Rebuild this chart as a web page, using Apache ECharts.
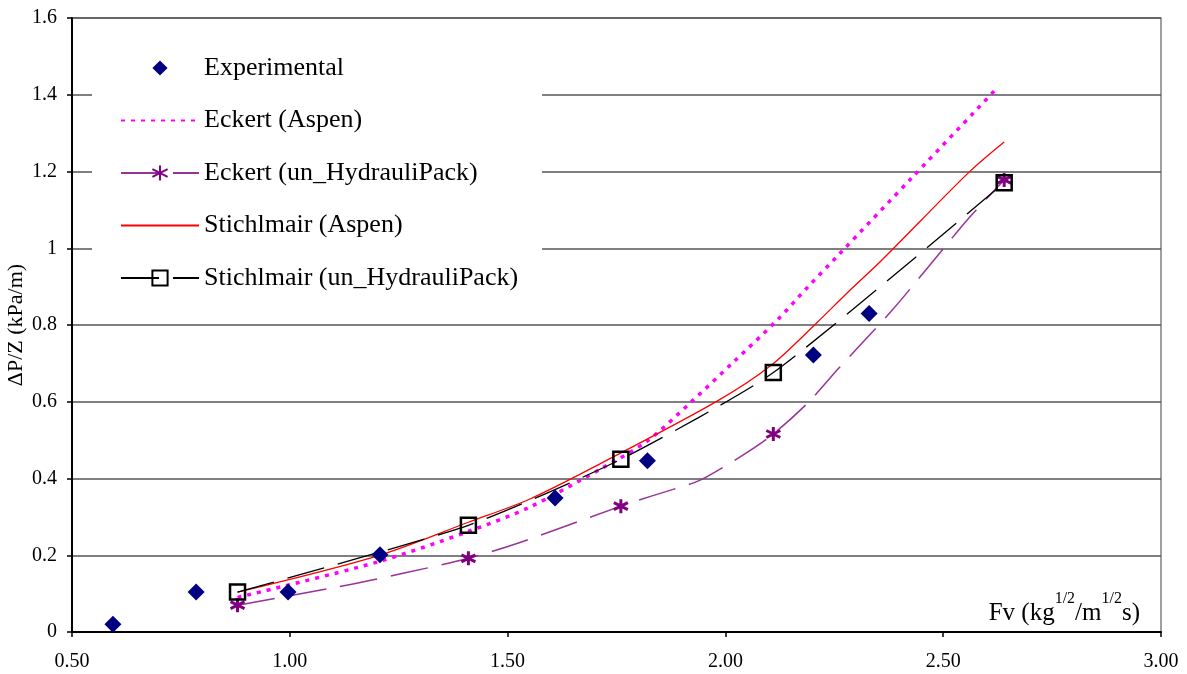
<!DOCTYPE html>
<html>
<head>
<meta charset="utf-8">
<script src="https://cdn.jsdelivr.net/npm/echarts@6/dist/echarts.min.js"></script>
<style>html,body{margin:0;padding:0;background:#fff}#c{width:1187px;height:674px}</style>
</head>
<body>
<div id="c"></div>
<script>
// ---- data ----
var expX = [0.594, 0.785, 0.996, 1.207, 1.609, 1.821, 2.202, 2.330];
var expY = [0.020, 0.104, 0.104, 0.201, 0.349, 0.446, 0.722, 0.830];

var eckAspenX = [0.88, 1.20, 1.41, 1.55, 1.72, 1.82, 1.92, 2.02, 2.12, 2.19, 2.26, 2.43, 2.62];
var eckAspenY = [0.090, 0.182, 0.262, 0.325, 0.429, 0.497, 0.598, 0.705, 0.814, 0.900, 0.983, 1.186, 1.413];

var eckHPX = [0.88, 1.13, 1.26, 1.41, 1.53, 1.76, 1.83, 1.93, 1.96, 2.05, 2.11, 2.19, 2.26, 2.38, 2.47, 2.56, 2.64];
var eckHPY = [0.070, 0.122, 0.153, 0.192, 0.234, 0.328, 0.354, 0.390, 0.406, 0.468, 0.516, 0.598, 0.687, 0.835, 0.957, 1.080, 1.178];
var eckHPMarked = [0.88, 1.41, 1.76, 2.11, 2.64];

var stiAspenX = [0.88, 1.20, 1.41, 1.55, 1.71, 1.98, 2.105, 2.21, 2.28, 2.36, 2.56, 2.64];
var stiAspenY = [0.104, 0.198, 0.286, 0.346, 0.437, 0.601, 0.695, 0.806, 0.884, 0.970, 1.199, 1.277];

var stiHPX = [0.88, 1.41, 1.76, 2.11, 2.64];
var stiHPY = [0.104, 0.278, 0.450, 0.676, 1.171];

var xTicks = [0.5, 1.0, 1.5, 2.0, 2.5, 3.0];
var yTicks = [0, 0.2, 0.4, 0.6, 0.8, 1.0, 1.2, 1.4, 1.6];

var seriesNames = ['Experimental', 'Eckert (Aspen)', 'Eckert (un_HydrauliPack)', 'Stichlmair (Aspen)', 'Stichlmair (un_HydrauliPack)'];

function pairs(xs, ys) { return xs.map(function (x, i) { return [x, ys[i]]; }); }
function markedPairs(xs, ys, marked) {
  return xs.map(function (x, i) {
    var item = { value: [x, ys[i]] };
    if (marked.indexOf(x) < 0) item.symbol = 'none';
    return item;
  });
}

var FONT = '"Liberation Serif", "Times New Roman", serif';
var asterisk = 'path://M10,0L10,20M1.34,5L18.66,15M1.34,15L18.66,5';
var noMarker = { color: 'rgba(0,0,0,0)', borderColor: 'rgba(0,0,0,0)', borderWidth: 0 };

var chart = echarts.init(document.getElementById('c'), null, { renderer: 'canvas' });
chart.setOption({
  animation: false,
  backgroundColor: '#fff',
  grid: { left: 72, right: 26, top: 18, bottom: 42, show: true, borderColor: '#808080', borderWidth: 1.5, containLabel: false, outerBoundsMode: 'none' },
  xAxis: {
    type: 'value', min: 0.5, max: 3.0, interval: 0.5,
    axisLine: { show: true, onZero: false, lineStyle: { color: '#000', width: 2 } },
    axisTick: { show: true, inside: false, length: 5, lineStyle: { color: '#000', width: 1.5 } },
    axisLabel: { color: '#000', fontFamily: FONT, fontSize: 20, margin: 20, formatter: function (v) { return v.toFixed(2); } },
    splitLine: { show: false }
  },
  yAxis: {
    type: 'value', min: 0, max: 1.6, interval: 0.2,
    name: 'ΔP/Z (kPa/m)', nameLocation: 'middle', nameGap: 45, nameMoveOverlap: false,
    nameTextStyle: { color: '#000', fontFamily: FONT, fontSize: 22 },
    axisLine: { show: true, onZero: false, lineStyle: { color: '#000', width: 2 } },
    axisTick: { show: true, inside: false, length: 5, lineStyle: { color: '#000', width: 1.5 } },
    axisLabel: { color: '#000', fontFamily: FONT, fontSize: 20, margin: 15, formatter: function (v) { return String(+v.toFixed(1)); } },
    splitLine: { show: true, lineStyle: { color: '#555', width: 1.5 } }
  },
  legend: {
    orient: 'vertical', left: 92, top: 41,
    padding: [14, 24, 9, 28],
    backgroundColor: '#fff',
    itemWidth: 78, itemHeight: 19, itemGap: 26.5,
    data: [
      { name: seriesNames[0] },
      { name: seriesNames[1], itemStyle: noMarker },
      { name: seriesNames[2] },
      { name: seriesNames[3], itemStyle: noMarker },
      { name: seriesNames[4] }
    ],
    textStyle: { color: '#000', fontFamily: FONT, fontSize: 26, lineHeight: 26 }
  },
  graphic: [{
    type: 'text', right: 47, top: 591, z: 100,
    style: {
      text: 'Fv (kg{s|1/2}/m{s|1/2}s)',
      font: '25px ' + FONT, fill: '#000',
      rich: { s: { fontSize: 16, fontFamily: FONT, verticalAlign: 'top', lineHeight: 16 } },
      lineHeight: 44
    }
  }],
  series: [
    {
      name: seriesNames[0], type: 'line', showAllSymbol: true, symbol: 'diamond', symbolSize: 17, z: 5,
      lineStyle: { width: 0, opacity: 0 },
      itemStyle: { color: '#000080', opacity: 1 },
      data: pairs(expX, expY)
    },
    {
      name: seriesNames[1], type: 'line', smooth: 0.3, showSymbol: false, symbol: 'none',
      lineStyle: { color: '#ff00ff', width: 3.5, type: [4, 6] },
      itemStyle: { color: '#ff00ff' },
      data: pairs(eckAspenX, eckAspenY)
    },
    {
      name: seriesNames[2], type: 'line', smooth: 0.3, showAllSymbol: true,
      symbol: asterisk, symbolSize: 14,
      lineStyle: { color: '#993399', width: 1.5, type: [38, 14] },
      itemStyle: { color: '#800080', borderColor: '#800080', borderWidth: 3 },
      data: markedPairs(eckHPX, eckHPY, eckHPMarked)
    },
    {
      name: seriesNames[3], type: 'line', smooth: 0.3, showSymbol: false, symbol: 'none',
      lineStyle: { color: '#ff0000', width: 1.3 },
      itemStyle: { color: '#ff0000' },
      data: pairs(stiAspenX, stiAspenY)
    },
    {
      name: seriesNames[4], type: 'line', smooth: 0.2, showAllSymbol: true,
      symbol: 'rect', symbolSize: 15,
      lineStyle: { color: '#000', width: 1.3, type: [38, 14] },
      itemStyle: { color: 'rgba(255,255,255,0)', borderColor: '#000', borderWidth: 2.5 },
      data: pairs(stiHPX, stiHPY)
    }
  ]
});
</script>
</body>
</html>
